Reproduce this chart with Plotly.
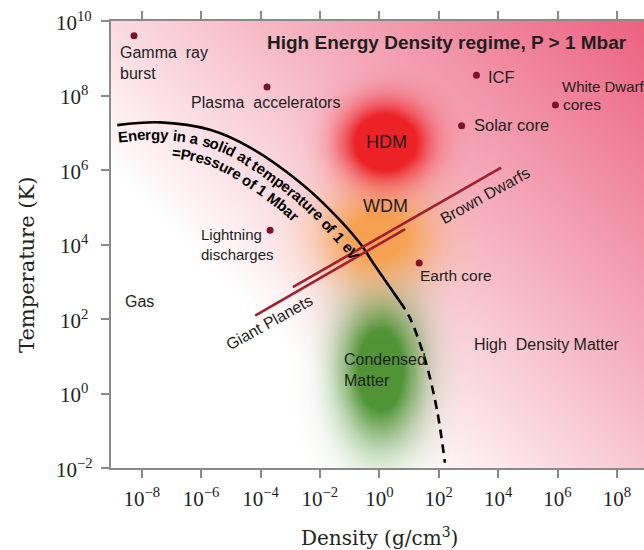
import numpy as np
import plotly.graph_objects as go

# ---------------- data ----------------
x_tick_exponents = [-8, -6, -4, -2, 0, 2, 4, 6, 8]
y_tick_exponents = [-2, 0, 2, 4, 6, 8, 10]

point_labels = ["Gamma ray burst", "Plasma accelerators", "ICF", "White Dwarf cores",
                "Solar core", "Lightning discharges", "Earth core"]
point_density = [5.5e-9, 1.66e-4, 1.86e3, 8.5e5, 5.9e2, 2.1e-4, 2.2e1]          # g/cm3
point_temperature = [4.0e9, 1.7e8, 3.5e8, 5.6e7, 1.55e7, 2.4e4, 3.2e3]         # K

boundary_density_solid = [1.5e-9, 4.2e-8, 2.0e-6, 4.5e-5, 2.1e-3, 2.75e-2, 0.22, 0.62, 5.0]
boundary_temperature_solid = [1.6e7, 1.9e7, 1.2e7, 4.0e6, 4.7e5, 7.1e4, 1.1e4, 3.2e3, 2.9e2]
boundary_density_dashed = [5.0, 10.7, 34.7, 87.0, 162.0]
boundary_temperature_dashed = [2.9e2, 1.07e2, 8.1, 0.37, 0.0138]

giant_planets_density = [6.6e-5, 7.4]
giant_planets_temperature = [1.23e2, 2.6e4]
brown_dwarfs_density = [1.23e-3, 1.26e4]
brown_dwarfs_temperature = [7.2e2, 1.15e6]

region_names = ["HDM", "WDM", "Condensed Matter"]
region_density = [1.55, 0.9, 1.07]
region_temperature = [5.6e6, 1.6e4, 4.3]

# ---------------- layout geometry / styles ----------------
FIG_W, FIG_H = 644, 550
M_L, M_R, M_T, M_B = 111, 0, 21, 82
X_RANGE = [-9.034, 8.912]
Y_RANGE = [-2.0, 10.0]
PW = FIG_W - M_L - M_R
PH = FIG_H - M_T - M_B

SANS = "Liberation Sans, Arial, sans-serif"
SERIF = "Liberation Serif, Times New Roman, serif"
TITLE_SERIF = "DejaVu Serif, serif"
TXT = "#1e1e1e"
AXIS_GRAY = "#8a8a8a"


def to_px(xl, yl):
    return (M_L + (np.asarray(xl) - X_RANGE[0]) / (X_RANGE[1] - X_RANGE[0]) * PW,
            M_T + (Y_RANGE[1] - np.asarray(yl)) / (Y_RANGE[1] - Y_RANGE[0]) * PH)


def from_px(px, py):
    return (X_RANGE[0] + (px - M_L) / PW * (X_RANGE[1] - X_RANGE[0]),
            Y_RANGE[1] - (py - M_T) / PH * (Y_RANGE[1] - Y_RANGE[0]))


lg = np.log10

fig = go.Figure()

# ---------------- background gradient ----------------
gx = np.linspace(X_RANGE[0], X_RANGE[1], 260)
gy = np.linspace(Y_RANGE[0], Y_RANGE[1], 230)
XX, YY = np.meshgrid(gx, gy)
PXg, PYg = to_px(XX, YY)
diag = (PXg - M_L) + (M_T + PH - PYg)
tbg = np.clip((diag - 300.0) / 680.0, 0, 1) ** 0.95
fig.add_trace(go.Heatmap(x=gx, y=gy, z=tbg, zmin=0, zmax=1, zsmooth="best",
                         colorscale=[[0, "rgb(255,255,255)"], [1, "rgb(236,98,128)"]],
                         showscale=False, hoverinfo="skip"))

# ---------------- glowing regions ----------------
blob_styles = {
    "Condensed Matter": dict(rgb=(80, 148, 54), sx=0.92, sy=1.3, amp=1.4),
    "WDM": dict(rgb=(246, 162, 82), sx=1.3, sy=0.88, amp=1.25),
    "HDM": dict(rgb=(236, 34, 38), sx=0.95, sy=0.7, amp=1.8),
}
for name in ["Condensed Matter", "WDM", "HDM"]:
    i = region_names.index(name)
    st = blob_styles[name]
    cx, cy = lg(region_density[i]), lg(region_temperature[i])
    a = st["amp"] * np.exp(-0.5 * (((XX - cx) / st["sx"]) ** 2 + ((YY - cy) / st["sy"]) ** 2))
    a = np.clip(a, 0, 1)
    r, g, b = st["rgb"]
    fig.add_trace(go.Heatmap(x=gx, y=gy, z=a, zmin=0, zmax=1, zsmooth="best",
                             colorscale=[[0, f"rgba({r},{g},{b},0)"], [1, f"rgba({r},{g},{b},1)"]],
                             showscale=False, hoverinfo="skip"))

# ---------------- lines ----------------
fig.add_trace(go.Scatter(x=lg(boundary_density_solid), y=lg(boundary_temperature_solid),
                         mode="lines", line=dict(color="black", width=2.6, shape="spline"),
                         hoverinfo="skip"))
fig.add_trace(go.Scatter(x=lg(boundary_density_dashed), y=lg(boundary_temperature_dashed),
                         mode="lines", line=dict(color="black", width=2.6, shape="spline", dash="9px,6px"),
                         hoverinfo="skip"))
for dens, temp in [(giant_planets_density, giant_planets_temperature),
                   (brown_dwarfs_density, brown_dwarfs_temperature)]:
    fig.add_trace(go.Scatter(x=lg(dens), y=lg(temp), mode="lines",
                             line=dict(color="#a51e2f", width=2.6), hoverinfo="skip"))

# ---------------- points ----------------
fig.add_trace(go.Scatter(x=lg(point_density), y=lg(point_temperature), mode="markers",
                         marker=dict(color="#7c1326", size=7), hoverinfo="skip"))

# invisible trace for the top axis
fig.add_trace(go.Scatter(x=[0], y=[0], xaxis="x2", yaxis="y", mode="markers",
                         marker=dict(opacity=0), hoverinfo="skip", showlegend=False))

annotations = []

# ---------------- curved text along the boundary ----------------
ARIAL_BOLD = {'E': 667, 'n': 611, 'e': 556, 'r': 389, 'g': 611, 'y': 556, ' ': 278, 'i': 278,
              'a': 556, 's': 556, 'o': 611, 'l': 278, 'd': 611, 't': 333, 'm': 889, 'p': 611,
              'u': 611, '1': 556, 'V': 667, '=': 584, 'P': 667, 'M': 833, 'b': 611, 'f': 333}


def catmull_rom(pts, n=40):
    pts = np.asarray(pts, dtype=float)
    P = np.vstack([2 * pts[0] - pts[1], pts, 2 * pts[-1] - pts[-2]])
    out = []
    for i in range(1, len(P) - 2):
        p0, p1, p2, p3 = P[i - 1], P[i], P[i + 1], P[i + 2]
        for t in np.linspace(0, 1, n, endpoint=False):
            t2, t3 = t * t, t * t * t
            out.append(0.5 * ((2 * p1) + (-p0 + p2) * t + (2 * p0 - 5 * p1 + 4 * p2 - p3) * t2
                              + (-p0 + 3 * p1 - 3 * p2 + p3) * t3))
    out.append(pts[-1])
    return np.array(out)


cpx, cpy = to_px(lg(boundary_density_solid), lg(boundary_temperature_solid))
path = catmull_rom(np.column_stack([cpx, cpy]))


def text_on_curve(text, offset, start_px_x, size):
    d = np.gradient(path, axis=0)
    tang = d / np.linalg.norm(d, axis=1)[:, None]
    nrm = np.column_stack([-tang[:, 1], tang[:, 0]])
    Q = path + offset * nrm
    s = np.concatenate([[0], np.cumsum(np.linalg.norm(np.diff(Q, axis=0), axis=1))])
    ang = np.degrees(np.arctan2(tang[:, 1], tang[:, 0]))
    pos = float(np.interp(start_px_x, Q[:, 0], s))
    out = []
    for ch in text:
        w = ARIAL_BOLD.get(ch, 556) / 1000.0 * size
        c = pos + w / 2
        pos += w
        if ch == " ":
            continue
        qx, qy = np.interp(c, s, Q[:, 0]), np.interp(c, s, Q[:, 1])
        a = float(np.interp(c, s, ang))
        xl, yl = from_px(qx, qy)
        out.append(dict(x=xl, y=yl, xref="x", yref="y", text=ch, textangle=a, showarrow=False,
                        xanchor="center", yanchor="middle",
                        font=dict(family=SANS, size=size, color="black", weight="bold")))
    return out


annotations += text_on_curve("Energy in a solid at temperature of 1 eV", 12, 117, 15)
annotations += text_on_curve("=Pressure of 1 Mbar", 29, 172, 15)

# ---------------- labels ----------------
labels = [
    # text, px, py, xanchor, size, bold, angle
    ("Gamma\u00a0 ray<br>burst", 118, 63, "left", 16, False, 0),
    ("Plasma\u00a0 accelerators", 189, 102, "left", 16, False, 0),
    ("High Energy Density regime, P &gt; 1 Mbar", 265, 42, "left", 19, True, 0),
    ("ICF", 486, 77, "left", 16.5, False, 0),
    ("White Dwarf", 560, 86, "left", 15, False, 0),
    ("cores", 561, 104, "left", 15.5, False, 0),
    ("Solar core", 472, 125, "left", 16.5, False, 0),
    ("HDM", 386, 142, "center", 18, False, 0),
    ("WDM", 385, 206, "center", 18, False, 0),
    ("Lightning<br>discharges", 199, 244, "left", 15, False, 0),
    ("Earth core", 418, 275, "left", 15.5, False, 0),
    ("Gas", 123, 301, "left", 16, False, 0),
    ("Giant Planets", 269, 322, "center", 16, False, -29),
    ("Brown Dwarfs", 485, 195, "center", 16, False, -29),
    ("High\u00a0 Density Matter", 472, 344, "left", 16, False, 0),
    ("Condensed<br>Matter", 342, 370, "left", 16, False, 0),
]
for text, px, py, xa, size, bold, angle in labels:
    xl, yl = from_px(px, py)
    annotations.append(dict(x=xl, y=yl, xref="x", yref="y", text=text, showarrow=False,
                            xanchor=xa, yanchor="middle", align="left", textangle=angle,
                            font=dict(family=SANS, size=size, color=TXT,
                                      weight="bold" if bold else "normal")))

# ---------------- y tick labels (centered) ----------------
for k in y_tick_exponents:
    txt = f"10<sup>{k}</sup>" if k >= 0 else f"10<sup>\u2212{-k}</sup>"
    annotations.append(dict(x=(74 - M_L) / PW, y=k, xref="paper", yref="y", text=txt,
                            showarrow=False, xanchor="center", yanchor="middle",
                            font=dict(family=SERIF, size=21, color="#222222")))

# ---------------- axis titles ----------------
annotations.append(dict(x=(27 - M_L) / PW, y=from_px(0, 265)[1], xref="paper", yref="y",
                        text="Temperature (K)", textangle=-90, showarrow=False,
                        xanchor="center", yanchor="middle",
                        font=dict(family=TITLE_SERIF, size=21, color="#222222")))
annotations.append(dict(x=(379 - M_L) / PW, y=-(537 - (M_T + PH)) / PH, xref="paper", yref="paper",
                        text="Density (g/cm<sup>3</sup>)", showarrow=False,
                        xanchor="center", yanchor="middle",
                        font=dict(family=TITLE_SERIF, size=20, color="#222222")))

x_ticktext = [f"10<sup>{k}</sup>" if k >= 0 else f"10<sup>\u2212{-k}</sup>" for k in x_tick_exponents]

axis_common = dict(showgrid=False, zeroline=False, showline=True, linecolor=AXIS_GRAY, linewidth=2,
                   ticks="outside", ticklen=8, tickwidth=1.5, tickcolor=AXIS_GRAY)

fig.update_layout(
    width=FIG_W, height=FIG_H,
    margin=dict(l=M_L, r=M_R, t=M_T, b=M_B, pad=0),
    paper_bgcolor="white", plot_bgcolor="white",
    showlegend=False,
    xaxis=dict(range=X_RANGE, tickvals=x_tick_exponents, ticktext=x_ticktext, ticklabelstandoff=3,
               tickfont=dict(family=SERIF, size=21, color="#222222"), **axis_common),
    xaxis2=dict(range=X_RANGE, overlaying="x", side="top", tickvals=x_tick_exponents,
                showticklabels=False, **axis_common),
    yaxis=dict(range=Y_RANGE, tickvals=y_tick_exponents, showticklabels=False, **axis_common),
    annotations=annotations,
)

fig.write_html("out.html")
